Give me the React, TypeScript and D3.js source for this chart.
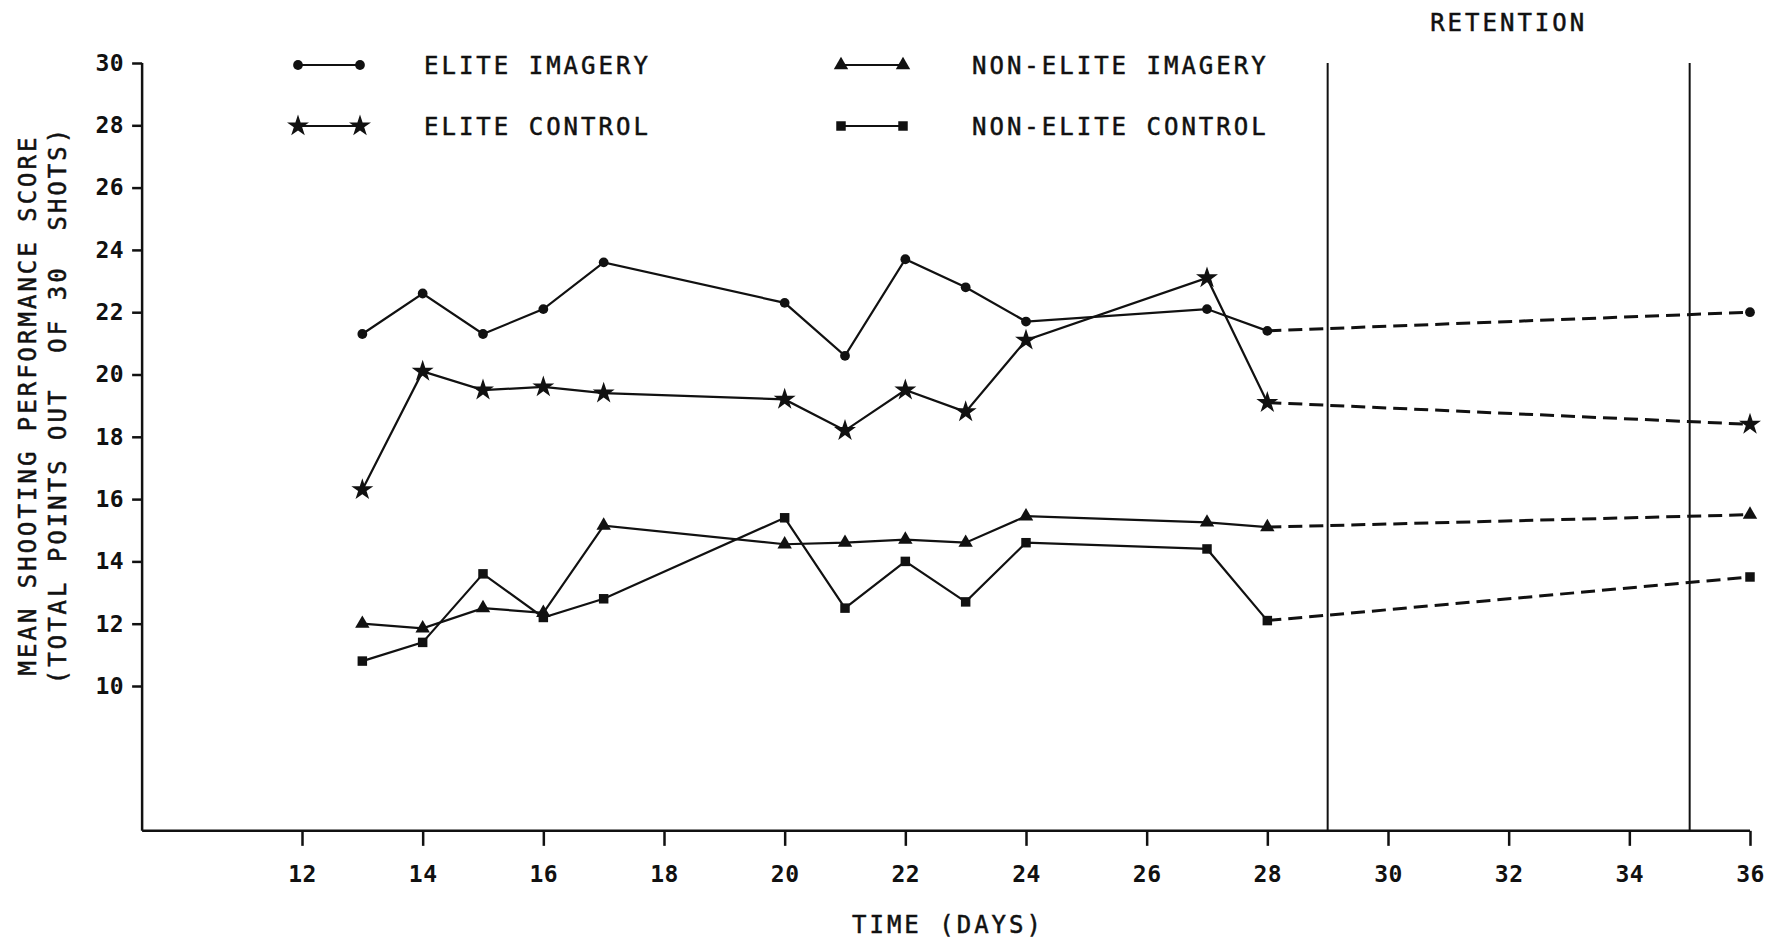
import React, { useEffect, useRef } from "react";
import * as d3 from "d3";

// training days and the retention test day
const days = [13, 14, 15, 16, 17, 20, 21, 22, 23, 24, 27, 28];
const retentionDay = 36;

// mean score per group
const eliteImagery = [21.3, 22.6, 21.3, 22.1, 23.6, 22.3, 20.6, 23.7, 22.8, 21.7, 22.1, 21.4];
const eliteControl = [16.3, 20.1, 19.5, 19.6, 19.4, 19.2, 18.2, 19.5, 18.8, 21.1, 23.1, 19.1];
const nonEliteImagery = [12.0, 11.85, 12.5, 12.35, 15.15, 14.55, 14.6, 14.7, 14.6, 15.45, 15.25, 15.1];
const nonEliteControl = [10.8, 11.4, 13.6, 12.2, 12.8, 15.4, 12.5, 14.0, 12.7, 14.6, 14.4, 12.1];
const retentionScores = [22.0, 18.4, 15.5, 13.5];

const seriesNames = ["ELITE IMAGERY", "ELITE CONTROL", "NON-ELITE IMAGERY", "NON-ELITE CONTROL"];
const xTicks = [12, 14, 16, 18, 20, 22, 24, 26, 28, 30, 32, 34, 36];
const yTicks = [10, 12, 14, 16, 18, 20, 22, 24, 26, 28, 30];
const phaseLines = [29, 35];

const FONT = "'DejaVu Sans Mono', monospace";

export default function App() {
  const ref = useRef<SVGSVGElement>(null);

  useEffect(() => {
    const svg = d3.select(ref.current);
    svg.selectAll("*").remove();

    const x = d3.scaleLinear().domain([12, 36]).range([302, 1750]);
    const y = d3.scaleLinear().domain([10, 30]).range([686, 63]);
    const xStart = 9.35;
    const yFloor = 5.35;
    const x0 = x(xStart);
    const y0 = y(yFloor);

    const g = svg.append("g");

    const label = (sel: any) =>
      sel
        .attr("font-family", FONT)
        .attr("font-size", 24)
        .attr("letter-spacing", 3)
        .attr("fill", "#111")
        .attr("stroke", "#111")
        .attr("stroke-width", 0.5);

    // axes lines
    g.append("line")
      .attr("x1", x0).attr("x2", x0)
      .attr("y1", y(30)).attr("y2", y0)
      .attr("stroke", "#111").attr("stroke-width", 2.5);
    g.append("line")
      .attr("x1", x0).attr("x2", x(36))
      .attr("y1", y0).attr("y2", y0)
      .attr("stroke", "#111").attr("stroke-width", 2.5);

    const yAxis = g.append("g")
      .attr("transform", `translate(${x0},0)`)
      .call(d3.axisLeft(y).tickValues(yTicks).tickSize(10).tickPadding(8).tickFormat(d3.format("d")));
    yAxis.select(".domain").remove();

    const xAxis = g.append("g")
      .attr("transform", `translate(0,${y0})`)
      .call(d3.axisBottom(x).tickValues(xTicks).tickSize(15).tickPadding(20).tickFormat(d3.format("d")));
    xAxis.select(".domain").remove();

    g.selectAll(".tick line").attr("stroke", "#111").attr("stroke-width", 2.5);
    g.selectAll(".tick text")
      .attr("font-family", FONT)
      .attr("font-size", 23)
      .attr("font-weight", "bold")
      .attr("letter-spacing", 0.5)
      .attr("fill", "#111");

    // retention phase boundaries
    g.selectAll(".phase")
      .data(phaseLines)
      .join("line")
      .attr("class", "phase")
      .attr("x1", (d) => x(d)).attr("x2", (d) => x(d))
      .attr("y1", y(30)).attr("y2", y0)
      .attr("stroke", "#111").attr("stroke-width", 2);

    const all = [eliteImagery, eliteControl, nonEliteImagery, nonEliteControl];
    const shapes = [d3.symbolCircle, d3.symbolStar, d3.symbolTriangle, d3.symbolSquare];
    const sizes = [75, 150, 90, 90];

    const line = d3.line<[number, number]>().x((d) => x(d[0])).y((d) => y(d[1]));

    all.forEach((vals, i) => {
      const pts: [number, number][] = days.map((d, j) => [d, vals[j]]);
      const last = pts[pts.length - 1];
      const ret: [number, number] = [retentionDay, retentionScores[i]];

      g.append("path")
        .attr("d", line(pts))
        .attr("fill", "none")
        .attr("stroke", "#111")
        .attr("stroke-width", 2.2);

      g.append("path")
        .attr("d", line([last, ret]))
        .attr("fill", "none")
        .attr("stroke", "#111")
        .attr("stroke-width", 3)
        .attr("stroke-dasharray", "14,7");

      const sym = d3.symbol().type(shapes[i]).size(sizes[i]);
      g.selectAll(`.m${i}`)
        .data([...pts, ret])
        .join("path")
        .attr("class", `m${i}`)
        .attr("d", sym)
        .attr("transform", (d) => `translate(${x(d[0])},${y(d[1])})`)
        .attr("fill", "#111");
    });

    // legend
    const legendPos = [
      { lx: 298, tx: 424, ly: 65 },
      { lx: 298, tx: 424, ly: 126 },
      { lx: 841, tx: 972, ly: 65 },
      { lx: 841, tx: 972, ly: 126 },
    ];
    seriesNames.forEach((name, i) => {
      const p = legendPos[i];
      g.append("line")
        .attr("x1", p.lx).attr("x2", p.lx + 62)
        .attr("y1", p.ly).attr("y2", p.ly)
        .attr("stroke", "#111").attr("stroke-width", 2.2);
      const sym = d3.symbol().type(shapes[i]).size(sizes[i]);
      [p.lx, p.lx + 62].forEach((px) => {
        g.append("path")
          .attr("d", sym)
          .attr("transform", `translate(${px},${p.ly})`)
          .attr("fill", "#111");
      });
      g.append("text")
        .attr("x", p.tx).attr("y", p.ly)
        .attr("dy", "0.36em")
        .call(label)
        .text(name);
    });

    // titles
    g.append("text")
      .attr("x", x(32)).attr("y", 22)
      .attr("dy", "0.36em")
      .attr("text-anchor", "middle")
      .call(label)
      .text("RETENTION");

    g.append("text")
      .attr("x", 948).attr("y", 924)
      .attr("text-anchor", "middle")
      .attr("dy", "0.36em")
      .call(label)
      .text("TIME (DAYS)");

    const yLabels = [
      { x: 27, t: "MEAN SHOOTING PERFORMANCE SCORE" },
      { x: 57, t: "(TOTAL POINTS OUT  OF 30  SHOTS)" },
    ];
    yLabels.forEach((l) => {
      g.append("text")
        .attr("transform", `translate(${l.x},405) rotate(-90)`)
        .attr("text-anchor", "middle")
        .attr("dy", "0.36em")
        .call(label)
        .style("white-space", "pre")
        .text(l.t);
    });
  }, []);

  return (
    <svg
      ref={ref}
      width={1786}
      height={945}
      style={{ position: "absolute", left: 0, top: 0, background: "#fff" }}
    />
  );
}
